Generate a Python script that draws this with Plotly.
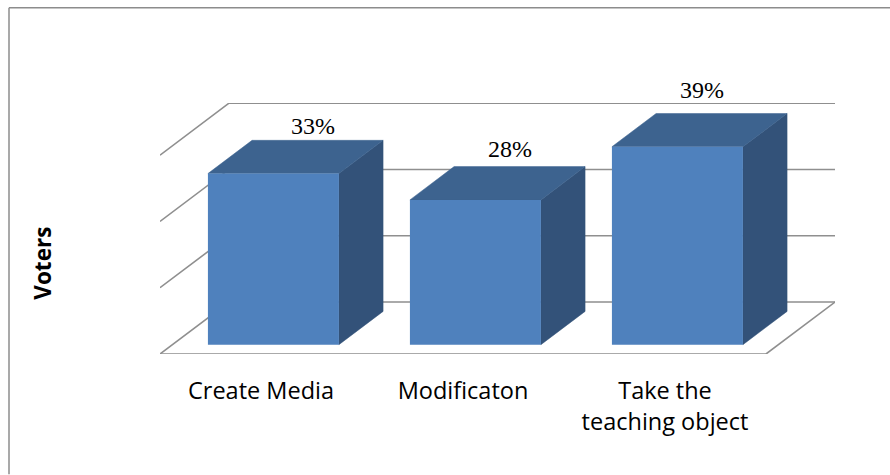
import plotly.graph_objects as go

# Data
categories = ["Create Media", "Modificaton", "Take the<br>teaching object"]
bar_heights = [32.85, 27.8, 38.0]
value_labels = ["33%", "28%", "39%"]
grid_levels = [0.0, 12.73, 25.46, 38.19]
axis_title = "Voters"

# Oblique projection of the 3D box chart
BAR_WIDTH = 0.6485
DEPTH_DX = 0.3416      # axis-x units for a full floor depth
DEPTH_DY = 9.98        # axis-y units for a full floor depth
FRONT, BACK = 0.18, 0.82
Y_MAX = 48.2
X_MIN, X_MAX = -0.5, 2.5 + DEPTH_DX

# Plot area in page pixels
W, H = 890, 475
M_L, M_R, M_T, M_B = 160, 55, 103, 120.5
PLOT_W, PLOT_H = W - M_L - M_R, H - M_T - M_B

FRONT_COLOR = "#4F81BD"
TOP_COLOR = "#3D638F"
SIDE_COLOR = "#335279"
GRID_COLOR = "#8F8F8F"
FRAME_COLOR = "#8C8C8C"
LABEL_NUDGE = [(-4.5, 14), (-10, 17.5), (-19.5, 24)]


def px_x(px):
    return (px - M_L) / PLOT_W


def px_y(py):
    return (H - M_B - py) / PLOT_H


def proj(cat, value, depth):
    return cat + depth * DEPTH_DX, value + depth * DEPTH_DY


def poly(points, color):
    xs, ys = zip(*(points + points[:1]))
    return go.Scatter(x=xs, y=ys, mode="lines", fill="toself", fillcolor=color,
                      line=dict(color=color, width=0.5), hoverinfo="skip",
                      showlegend=False, cliponaxis=False)


def line(points, width=1.6):
    xs, ys = zip(*points)
    return go.Scatter(x=xs, y=ys, mode="lines", line=dict(color=GRID_COLOR, width=width),
                      hoverinfo="skip", showlegend=False, cliponaxis=False)


fig = go.Figure()

# Walls and floor
for level in grid_levels:
    fig.add_trace(line([proj(-0.5, level, 0), proj(-0.5, level, 1), proj(2.5, level, 1)]))
fig.add_trace(line([proj(-0.5, 0, 0), proj(2.5, 0, 0), proj(2.5, 0, 1)]))

# Top and side faces of the boxes
for i, h in enumerate(bar_heights):
    l, r = i - BAR_WIDTH / 2, i + BAR_WIDTH / 2
    fig.add_trace(poly([proj(r, 0, FRONT), proj(r, 0, BACK), proj(r, h, BACK), proj(r, h, FRONT)], SIDE_COLOR))
    fig.add_trace(poly([proj(l, h, FRONT), proj(r, h, FRONT), proj(r, h, BACK), proj(l, h, BACK)], TOP_COLOR))

# Front faces
fx, fy = proj(0, 0, FRONT)
fig.add_trace(go.Bar(
    x=[i + fx for i in range(len(bar_heights))],
    y=bar_heights,
    base=fy,
    width=BAR_WIDTH,
    marker=dict(color=FRONT_COLOR, line=dict(width=0)),
    xaxis="x2", yaxis="y2", showlegend=False, hoverinfo="skip",
))

annotations = []
for i, (h, label) in enumerate(zip(bar_heights, value_labels)):
    ax, ay = proj(i, h, BACK)
    annotations.append(dict(
        x=ax, y=ay, xref="x", yref="y", text=label, showarrow=False,
        xshift=LABEL_NUDGE[i][0], yshift=LABEL_NUDGE[i][1],
        xanchor="center", yanchor="middle",
        font=dict(family="Liberation Serif", size=24, color="#000000"),
    ))
annotations.append(dict(
    x=px_x(43), y=px_y(264), xref="paper", yref="paper", text=f"<b>{axis_title}</b>",
    textangle=-90, showarrow=False, xanchor="center", yanchor="middle",
    font=dict(family="Open Sans", size=22.5, color="#000000"),
))

frame = dict(color=FRAME_COLOR, width=1.5)
fig.update_layout(
    width=W, height=H,
    margin=dict(l=M_L, r=M_R, t=M_T, b=M_B, pad=0),
    paper_bgcolor="#FFFFFF", plot_bgcolor="rgba(0,0,0,0)",
    showlegend=False,
    annotations=annotations,
    xaxis=dict(range=[X_MIN, X_MAX], tickmode="array", tickvals=list(range(len(categories))),
               ticktext=categories, showgrid=False, zeroline=False, showline=False,
               ticks="outside", ticklen=16, tickcolor="rgba(0,0,0,0)",
               tickfont=dict(family="Open Sans", size=23.5, color="#000000")),
    yaxis=dict(range=[0, Y_MAX], showgrid=False, zeroline=False, showline=False,
               showticklabels=False, ticks=""),
    xaxis2=dict(range=[X_MIN, X_MAX], overlaying="x", visible=False),
    yaxis2=dict(range=[0, Y_MAX], overlaying="y", visible=False),
    shapes=[
        dict(type="line", xref="paper", yref="paper", x0=px_x(9), x1=px_x(W),
             y0=px_y(7.5), y1=px_y(7.5), line=frame),
        dict(type="line", xref="paper", yref="paper", x0=px_x(9), x1=px_x(9),
             y0=px_y(7.5), y1=px_y(H), line=frame),
    ],
)

fig.write_html("out.html", config={"displayModeBar": False},
               post_script="document.body.style.margin='0';")
